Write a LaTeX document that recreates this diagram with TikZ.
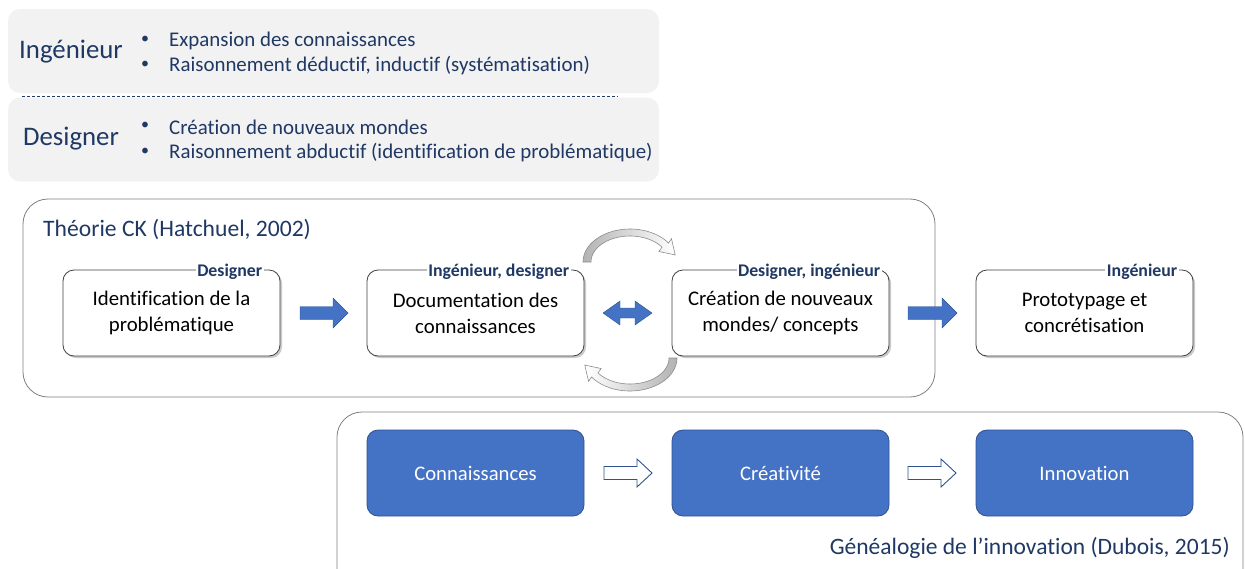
\documentclass[tikz,border=0pt]{standalone}
\usepackage{fontspec}
\setmainfont{Carlito}[Ligatures=NoCommon]
\usetikzlibrary{shadows,calc}
\definecolor{navy}{HTML}{1F3864}
\definecolor{bgray}{HTML}{F2F2F2}
\definecolor{pblue}{HTML}{4472C4}
\definecolor{pbord}{HTML}{2F528F}
\definecolor{frameg}{HTML}{808080}
\newcommand{\rarrow}[7]{% x1 x2 yc shafthalf headhalf headlen style
  \path[#7] (#1,#3-#4) -- (#2-#6,#3-#4) -- (#2-#6,#3-#5) -- (#2,#3) -- (#2-#6,#3+#5) -- (#2-#6,#3+#4) -- (#1,#3+#4) -- cycle;}
\begin{document}
\begin{tikzpicture}[x=1pt,y=-1pt,
  graybox/.style={draw=none,fill=bgray,rounded corners=12pt,minimum width=651pt,minimum height=84pt,inner sep=0pt},
  role/.style={text=navy,font=\fontsize{26.8}{31}\selectfont,inner sep=0pt},
  bul/.style={text=navy,font=\fontsize{20.9}{25}\selectfont,inner sep=0pt,anchor=west},
  frame/.style={draw=frameg,line width=0.8pt,rounded corners=25pt,inner sep=0pt},
  stepbox/.style={draw=black!75,fill=white,line width=0.8pt,rounded corners=11pt,minimum width=217pt,minimum height=86pt,align=center,font=\fontsize{20.8}{26}\selectfont,inner sep=0pt,
    drop shadow={shadow xshift=2pt,shadow yshift=-2pt,opacity=0.35,fill=black!60}},
  tag/.style={fill=white,text=navy,font=\bfseries\fontsize{17.8}{20}\selectfont,inner sep=1.5pt,anchor=east},
  bluebox/.style={draw=pbord,fill=pblue,line width=0.8pt,rounded corners=11pt,minimum width=217pt,minimum height=86pt,text=white,font=\fontsize{20.7}{24}\selectfont,inner sep=0pt},
  solidarrow/.style={fill=pblue,draw=pbord,line width=0.4pt},
  hollowarrow/.style={fill=white,draw=pbord,line width=0.9pt},
  curv/.style={draw=black!45,line width=0.6pt}
]
\useasboundingbox (0,0) rectangle (1245,568);
\clip (0,0) rectangle (1245,568);

% top gray boxes
\node[graybox] (ing) at (333.5,51) {};
\node[graybox] (des) at (333.5,139.5) {};
\draw[navy,dashed,dash pattern=on 3pt off 2pt,line width=0.6pt] (22,96) -- (618,96);
\node[role] (ingt) at (71,52) {Ingénieur};
\node[role] (dest) at (71,139) {Designer};
\node[bul,font=\fontsize{16}{20}\selectfont] (b1) at (141,40) {•};
\node[bul,font=\fontsize{16}{20}\selectfont] (b2) at (141,65) {•};
\node[bul,font=\fontsize{16}{20}\selectfont] (b3) at (141,126) {•};
\node[bul,font=\fontsize{16}{20}\selectfont] (b4) at (141,152) {•};
\node[bul] (l1) at (169,41) {Expansion des connaissances};
\node[bul] (l2) at (169,66) {Raisonnement déductif, inductif (systématisation)};
\node[bul] (l3) at (169,127) {Création de nouveaux mondes};
\node[bul] (l4) at (169,153) {Raisonnement abductif (identification de problématique)};

% CK frame
\node[frame,minimum width=912pt,minimum height=198pt] (ck) at (479,298) {};
\node[text=navy,font=\fontsize{23.6}{28}\selectfont,anchor=west,inner sep=0pt] (ckt) at (43,230) {Théorie CK (Hatchuel, 2002)};

\node[stepbox] (s1) at (171.5,313) {Identification de la\\problématique};
\node[stepbox] (s2) at (475.5,313) {Documentation des\\connaissances};
\node[stepbox] (s3) at (780.5,313) {Création de nouveaux\\mondes/ concepts};
\node[stepbox] (s4) at (1084.5,313) {Prototypage et\\concrétisation};
\node[tag] at ($(s1.north east)+(-16.5,2)$) {Designer};
\node[tag] at ($(s2.north east)+(-13.5,2)$) {Ingénieur, designer};
\node[tag] at ($(s3.north east)+(-7.5,2)$) {Designer, ingénieur};
\node[tag] at ($(s4.north east)+(-14.5,2)$) {Ingénieur};

% solid block arrows
\rarrow{300}{348}{313}{6.5}{15}{15}{solidarrow}
\rarrow{908}{957}{313}{6.5}{15}{15}{solidarrow}
\path[solidarrow] (603,313) -- (620,301) -- (620,308) -- (635,308) -- (635,301) -- (652,313) -- (635,325) -- (635,318) -- (620,318) -- (620,325) -- cycle;

% curved arrows
\path[curv,left color=black!30,right color=white]
  plot[domain=180:325,samples=40] ({630+47*cos(\x)},{262+33*sin(\x)})
  -- (671.5,238.7) -- (675.2,254.9) -- (658.9,251.5)
  -- plot[domain=325:180,samples=40] ({630+39*cos(\x)},{262+26*sin(\x)}) -- cycle;
\path[curv,right color=black!30,left color=white]
  plot[domain=0:145,samples=40] ({630+47*cos(\x)},{358+33*sin(\x)})
  -- (588.5,381.3) -- (584.8,365.1) -- (601.1,368.5)
  -- plot[domain=145:0,samples=40] ({630+39*cos(\x)},{358+26*sin(\x)}) -- cycle;

% genealogy frame
\node[frame,minimum width=906pt,minimum height=208pt] (gen) at (790,516) {};
\node[bluebox] (c1) at (475.5,473) {Connaissances};
\node[bluebox] (c2) at (780.5,473) {Créativité};
\node[bluebox] (c3) at (1084.5,473) {Innovation};
\rarrow{604}{652}{473}{6.5}{14}{15}{hollowarrow}
\rarrow{908}{956}{473}{6.5}{14}{15}{hollowarrow}
\node[text=navy,font=\fontsize{23.5}{28}\selectfont,anchor=east,inner sep=0pt] (gent) at (1230,548) {Généalogie de l’innovation (Dubois, 2015)};
\end{tikzpicture}
\end{document}
